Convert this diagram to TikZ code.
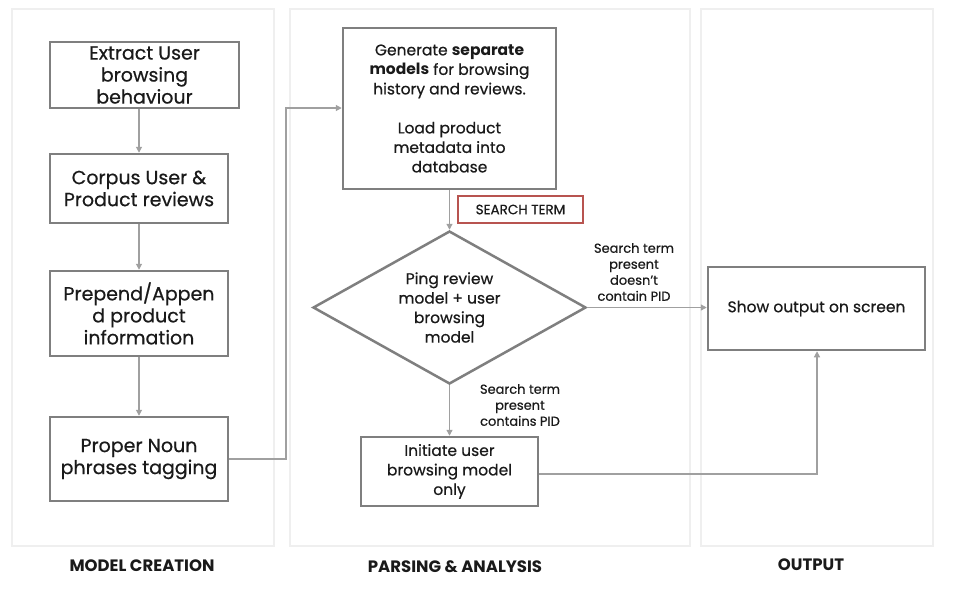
\documentclass[tikz,border=0pt]{standalone}
\usepackage{fontspec}
\setmainfont{Poppins}[UprightFeatures={FakeBold=0.5}]
\usetikzlibrary{shapes.geometric,arrows.meta}
\definecolor{boxgray}{HTML}{7F7F7F}
\definecolor{panelgray}{HTML}{EFEFEF}
\definecolor{linegray}{HTML}{A0A0A0}
\definecolor{termred}{HTML}{B85450}
\definecolor{txt}{HTML}{1A1A1A}
\tikzset{
  panel/.style={draw=panelgray, line width=2.5pt},
  box/.style={draw=boxgray, line width=2.5pt, text=txt, align=center, inner sep=2pt},
  bigtxt/.style={font=\fontsize{19}{22}\selectfont},
  midtxt/.style={font=\fontsize{15.5}{19.5}\selectfont},
  lbl/.style={font=\fontsize{13}{16}\selectfont, text=txt, align=center},
  title/.style={font=\bfseries\fontsize{16.5}{18}\selectfont, text=txt},
  conn/.style={draw=linegray, line width=1.2pt, -{Triangle[length=6pt,width=6pt]}},
  plain/.style={draw=linegray, line width=1.2pt}
}
\begin{document}
\begin{tikzpicture}[x=1pt,y=-1pt]
\useasboundingbox (0,0) rectangle (958,590);
\fill[white] (0,0) rectangle (958,590);
% panels
\draw[panel] (12,9) rectangle (274,546);
\draw[panel] (290,9) rectangle (690,546);
\draw[panel] (701,9) rectangle (933,546);
% titles
\node[title] (t1) at (142,566) {MODEL CREATION};
\node[title] (t2) at (455,567) {PARSING \& ANALYSIS};
\node[title] (t3) at (811,565) {OUTPUT};
% left column
\node[box,bigtxt,minimum width=189pt,minimum height=66pt] (extract) at (144.5,75) {Extract User\\browsing\\behaviour};
\node[box,bigtxt,minimum width=178pt,minimum height=69pt] (corpus) at (139,188.5) {Corpus User \&\\Product reviews};
\node[box,bigtxt,minimum width=178pt,minimum height=85pt] (prepend) at (139,313.5) {Prepend/Appen\\d product\\information};
\node[box,bigtxt,minimum width=178pt,minimum height=84pt] (noun) at (139,459) {Proper Noun\\phrases tagging};
% middle column
\node[box,midtxt,minimum width=213pt,minimum height=161pt] (gen) at (449.5,108.5) {Generate \textbf{separate}\\\textbf{models} for browsing\\history and reviews.\\[19.5pt]Load product\\metadata into\\database};
\node[draw=termred, line width=2.5pt, minimum width=125pt, minimum height=27pt, inner sep=0pt, text=txt, font=\fontsize{13.5}{14}\selectfont] (term) at (520.5,209.5) {SEARCH TERM};
\node[diamond, draw=boxgray, line width=2.5pt, aspect=1.78, minimum width=273pt, minimum height=153pt, inner sep=0pt, text=txt, align=center, midtxt] (ping) at (449.5,307.5) {Ping review\\model + user\\browsing\\model};
\node[box,midtxt,minimum width=177pt,minimum height=69pt] (init) at (449.5,471.5) {Initiate user\\browsing model\\only};
% right column
\node[box,midtxt,minimum width=217pt,minimum height=83pt] (show) at (816.5,308.5) {Show output on screen};
% connectors
\draw[conn] (extract.south -| corpus.north) -- (corpus.north);
\draw[conn] (corpus.south) -- (prepend.north);
\draw[conn] (prepend.south) -- (noun.north);
\coordinate (k1) at (286,459);
\coordinate (k2) at (286,108);
\draw[conn] (noun.east) -- (k1) -- (k2) -- (k2 -| gen.west);
\draw[conn] (gen.south) -- (ping.north);
\draw[conn] (ping.east) -- (ping.east -| show.west);
\draw[conn] (ping.south) -- (init.north);
\coordinate (k3) at (817,474);
\draw[conn] (init.east |- k3) -- (k3) -- (k3 |- show.south);
% labels
\node[lbl] (l1) at (634,272) {Search term\\present\\doesn't\\contain PID};
\node[lbl] (l2) at (520,405) {Search term\\present\\contains PID};
\end{tikzpicture}
\end{document}
